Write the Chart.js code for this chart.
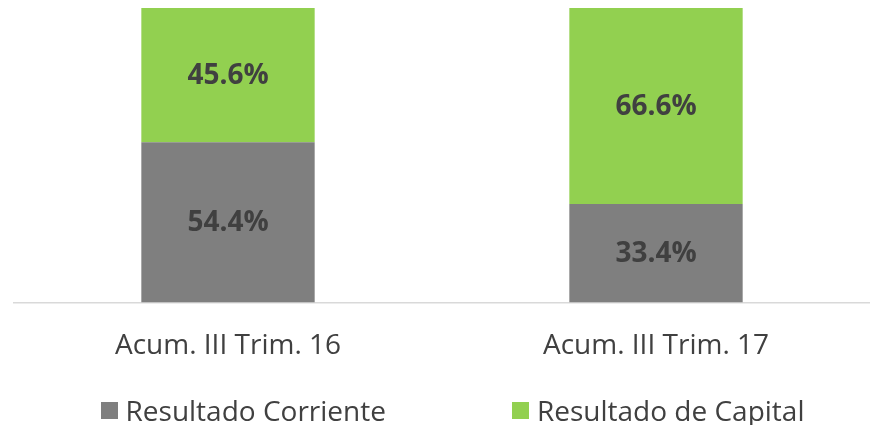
<!DOCTYPE html>
<html>
<head>
<meta charset="utf-8">
<script src="https://cdn.jsdelivr.net/npm/chart.js@4"></script>
<style>
  html, body { margin: 0; padding: 0; background: #fff; }
  #wrap { position: relative; width: 870px; height: 425px; }
  #legend {
    position: absolute; left: 0; top: 392px; width: 870px; height: 36px;
    display: flex; justify-content: center; gap: 126px; padding-left: 35px; box-sizing: border-box;
    font-family: 'Open Sans', sans-serif; font-size: 28px; color: #404040; line-height: 36px;
  }
  #legend span.item { display: flex; align-items: center; white-space: nowrap; }
  #legend span.box { display: inline-block; width: 17px; height: 17px; margin-right: 8px; }
</style>
</head>
<body>
<div id="wrap"><canvas id="chart"></canvas><div id="legend"></div></div>
<script>
const categories = ['Acum. III Trim. 16', 'Acum. III Trim. 17']
const corriente = [54.4, 33.4]
const capital = [45.6, 66.6]
const seriesNames = ['Resultado Corriente', 'Resultado de Capital']
const seriesColors = ['#7F7F7F', '#92D050']

const FONT = "'Open Sans', sans-serif"

// draws the percentage inside each segment
const valueLabels = {
  id: 'valueLabels',
  afterDatasetsDraw(chart) {
    const ctx = chart.ctx
    ctx.save()
    ctx.font = 'bold 28px ' + FONT
    ctx.fillStyle = '#404040'
    ctx.textAlign = 'center'
    ctx.textBaseline = 'middle'
    chart.data.datasets.forEach((ds, i) => {
      chart.getDatasetMeta(i).data.forEach((bar, j) => {
        const mid = (bar.y + bar.base) / 2
        ctx.fillText(ds.data[j].toFixed(1) + '%', bar.x, mid + 1)
      })
    })
    ctx.restore()
  }
}

new Chart(document.getElementById('chart'), {
  type: 'bar',
  data: {
    labels: categories,
    datasets: [{
      label: seriesNames[0],
      data: corriente,
      backgroundColor: seriesColors[0],
      barPercentage: 0.405,
      categoryPercentage: 1
    }, {
      label: seriesNames[1],
      data: capital,
      backgroundColor: seriesColors[1],
      barPercentage: 0.405,
      categoryPercentage: 1
    }]
  },
  options: {
    responsive: true,
    maintainAspectRatio: false,
    animation: false,
    layout: { padding: { left: 14, right: 0, top: 8, bottom: 35 } },
    scales: {
      x: {
        stacked: true,
        grid: { display: false, drawTicks: false },
        border: { color: '#D9D9D9', width: 1.5 },
        ticks: { color: '#404040', font: { family: FONT, size: 28 }, padding: 27 }
      },
      y: {
        stacked: true,
        display: false,
        min: 0,
        max: 100
      }
    },
    plugins: {
      legend: { display: false },
      tooltip: { enabled: false }
    }
  },
  plugins: [valueLabels]
})

// legend below the plot
const legendEl = document.getElementById('legend')
seriesNames.forEach((name, i) => {
  const item = document.createElement('span')
  item.className = 'item'
  item.innerHTML = '<span class="box" style="background:' + seriesColors[i] + '"></span>' + name
  legendEl.appendChild(item)
})
</script>
</body>
</html>
